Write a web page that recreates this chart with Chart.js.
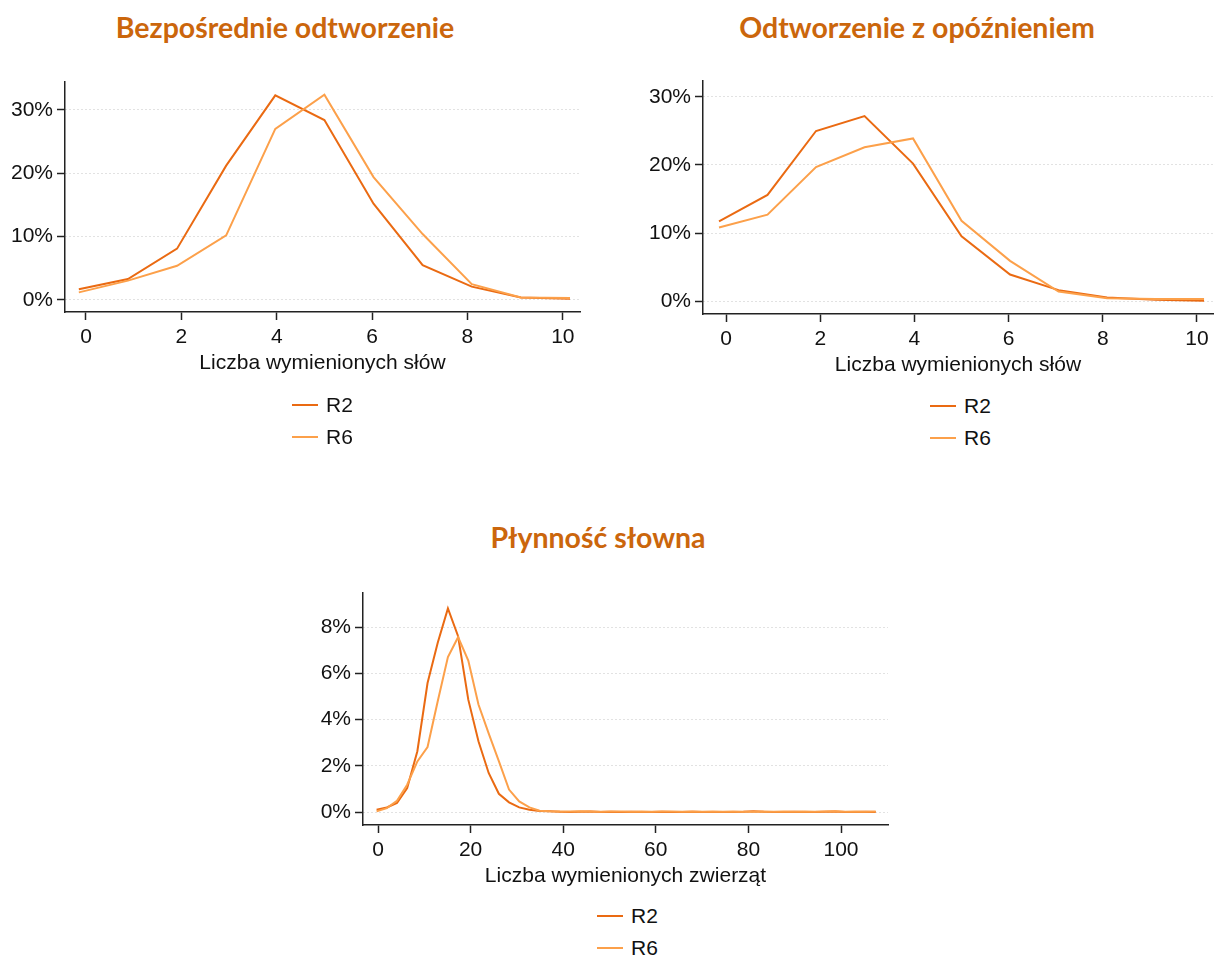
<!DOCTYPE html>
<html lang="pl">
<head>
<meta charset="utf-8">
<title>Odtwarzanie słów i płynność słowna – R2 i R6</title>
<script src="https://cdn.jsdelivr.net/npm/chart.js@4.4.1/dist/chart.umd.min.js"></script>
<style>
  html, body { margin: 0; padding: 0; background: #fff; }
  body { width: 1214px; height: 955px; position: relative; overflow: hidden; }
  canvas { position: absolute; }
  .title {
    position: absolute; transform: translateX(-50%); white-space: nowrap;
    font-family: Lato, "Open Sans", sans-serif; font-weight: 700; font-size: 28.5px;
    color: #CB660C; line-height: 1;
  }
  .legend { position: absolute; font-family: "Liberation Sans", Arial, sans-serif; font-size: 21px; color: #111; }
  .legend .row { display: flex; align-items: center; height: 32px; }
  .legend .sw { display: inline-block; width: 26px; height: 2px; margin-right: 8px; }
</style>
</head>
<body>

<div class="title" style="left:285px; top:13px;">Bezpośrednie odtworzenie</div>
<div class="title" style="left:917px; top:13px;">Odtworzenie z opóźnieniem</div>
<div class="title" style="left:598px; top:523px;">Płynność słowna</div>

<canvas id="c1" width="600" height="330" style="left:0px; top:60px;"></canvas>
<canvas id="c2" width="574" height="330" style="left:640px; top:60px;"></canvas>
<canvas id="c3" width="600" height="330" style="left:300px; top:570px;"></canvas>

<div class="legend" id="l1" style="left:292px; top:389px;"></div>
<div class="legend" id="l2" style="left:930px; top:390px;"></div>
<div class="legend" id="l3" style="left:597px; top:900px;"></div>

<script>
// Series names and colours
const seriesNames = ['R2', 'R6'];
const seriesColors = ['#EA6A12', '#FCA04A'];

// Word recall charts: bin positions along "number of words"
const wordsX = [-0.15, 0.88, 1.91, 2.94, 3.97, 5.0, 6.03, 7.06, 8.09, 9.12, 10.15];
const wordsTicks = [0, 2, 4, 6, 8, 10];
const pctTicksWords = [0, 10, 20, 30];

// Bezpośrednie odtworzenie (immediate recall), % of respondents
const immediateR2 = [1.7, 3.3, 8.1, 21.2, 32.3, 28.4, 15.2, 5.5, 2.1, 0.4, 0.2];
const immediateR6 = [1.2, 3.05, 5.4, 10.2, 27.0, 32.4, 19.4, 10.4, 2.5, 0.4, 0.3];

// Odtworzenie z opóźnieniem (delayed recall), % of respondents
const delayedR2 = [11.7, 15.6, 25.0, 27.2, 20.2, 9.5, 3.9, 1.6, 0.5, 0.2, 0.05];
const delayedR6 = [10.8, 12.7, 19.7, 22.6, 23.9, 11.8, 5.9, 1.4, 0.4, 0.3, 0.3];

// Płynność słowna (verbal fluency): bin positions along "number of animals"
const animalsX = [-0.3, 1.9, 4.1, 6.3, 8.5, 10.7, 12.9, 15.1, 17.3, 19.5,
  21.7, 23.9, 26.1, 28.3, 30.5, 32.7, 34.9, 37.1, 39.3, 41.5,
  43.7, 45.9, 48.1, 50.3, 52.5, 54.7, 56.9, 59.1, 61.3, 63.5,
  65.7, 67.9, 70.1, 72.3, 74.5, 76.7, 78.9, 81.1, 83.3, 85.5,
  87.7, 89.9, 92.1, 94.3, 96.5, 98.7, 100.9, 103.1, 105.3, 107.5];
const animalsTicks = [0, 20, 40, 60, 80, 100];
const pctTicksAnimals = [0, 2, 4, 6, 8];
const fluencyR2 = [0.10, 0.20, 0.39, 1.04, 2.63, 5.58, 7.32, 8.80, 7.60, 4.86,
  3.06, 1.69, 0.79, 0.42, 0.20, 0.10, 0.05, 0.03, 0.01, 0.00,
  0.01, 0.02, 0.00, 0.01, 0.00, 0.01, 0.00, 0.00, 0.01, 0.00,
  0.00, 0.01, 0.00, 0.00, 0.00, 0.00, 0.01, 0.03, 0.01, 0.00,
  0.00, 0.01, 0.00, 0.00, 0.01, 0.02, 0.00, 0.00, 0.01, 0.00];
const fluencyR6 = [0.03, 0.17, 0.49, 1.18, 2.19, 2.81, 4.79, 6.70, 7.56, 6.55,
  4.65, 3.40, 2.20, 0.97, 0.46, 0.20, 0.06, 0.03, 0.02, 0.02,
  0.03, 0.02, 0.01, 0.02, 0.02, 0.01, 0.02, 0.01, 0.02, 0.02,
  0.01, 0.02, 0.01, 0.02, 0.01, 0.02, 0.01, 0.01, 0.02, 0.01,
  0.02, 0.01, 0.02, 0.01, 0.02, 0.03, 0.01, 0.02, 0.01, 0.02];

const axisFont = { family: '"Liberation Sans", Arial, sans-serif', size: 21 };
const ink = '#111';
const axisColor = '#222';

function buildChart(id, cfg) {
  const series = [cfg.r2, cfg.r6];
  const datasets = series.map((vals, s) => ({
    label: seriesNames[s],
    data: cfg.x.map((x, i) => ({ x: x, y: vals[i] })),
    borderColor: seriesColors[s],
    backgroundColor: seriesColors[s],
    borderWidth: 2,
    pointRadius: 0,
    tension: 0,
    fill: false,
    order: s === 0 ? 1 : 0
  }));
  return new Chart(document.getElementById(id), {
    type: 'line',
    data: { datasets: datasets },
    options: {
      responsive: false,
      animation: false,
      devicePixelRatio: 1,
      layout: { padding: cfg.padding },
      plugins: { legend: { display: false }, tooltip: { enabled: false } },
      scales: {
        x: {
          type: 'linear',
          min: cfg.xMin, max: cfg.xMax,
          afterBuildTicks: sc => { sc.ticks = cfg.xTicks.map(v => ({ value: v })); },
          afterFit: sc => { sc.height = 64; },
          grid: { display: true, drawOnChartArea: false, drawTicks: true, tickLength: 8,
                  tickColor: axisColor, tickWidth: 1.5 },
          border: { display: true, color: axisColor, width: 1.5 },
          ticks: { color: ink, font: axisFont, padding: 5, maxRotation: 0, autoSkip: false,
                   callback: v => String(v) },
          title: { display: true, text: cfg.xTitle, color: ink, font: axisFont,
                   padding: { top: 0, bottom: 0 } }
        },
        y: {
          type: 'linear',
          min: cfg.yMin, max: cfg.yMax,
          afterBuildTicks: sc => { sc.ticks = cfg.yTicks.map(v => ({ value: v })); },
          afterFit: sc => { sc.width = cfg.yWidth; },
          grid: { display: true, drawOnChartArea: true, color: '#c4c4c4', lineWidth: 1,
                  drawTicks: true, tickLength: 8, tickColor: axisColor, tickWidth: 1.5,
                  tickBorderDash: [] },
          border: { display: true, color: axisColor, width: 1.5, dash: [1, 3] },
          ticks: { color: ink, font: axisFont, padding: 4, autoSkip: false,
                   callback: v => v + '%' }
        }
      }
    }
  });
}

function buildLegend(id) {
  const box = document.getElementById(id);
  seriesNames.forEach((name, s) => {
    const row = document.createElement('div');
    row.className = 'row';
    const sw = document.createElement('span');
    sw.className = 'sw';
    sw.style.background = seriesColors[s];
    const tx = document.createElement('span');
    tx.textContent = name;
    row.appendChild(sw);
    row.appendChild(tx);
    box.appendChild(row);
  });
}

buildChart('c1', {
  x: wordsX, r2: immediateR2, r6: immediateR6,
  xMin: -0.44, xMax: 10.36, xTicks: wordsTicks,
  yMin: -1.9, yMax: 34.4, yTicks: pctTicksWords,
  xTitle: 'Liczba wymienionych słów',
  yWidth: 65, padding: { left: 0, top: 22, right: 20, bottom: 14 }
});
buildChart('c2', {
  x: wordsX, r2: delayedR2, r6: delayedR6,
  xMin: -0.49, xMax: 10.34, xTicks: wordsTicks,
  yMin: -1.91, yMax: 32.35, yTicks: pctTicksWords,
  xTitle: 'Liczba wymienionych słów',
  yWidth: 63, padding: { left: 0, top: 21, right: 1, bottom: 12 }
});
buildChart('c3', {
  x: animalsX, r2: fluencyR2, r6: fluencyR6,
  xMin: -3.24, xMax: 110.15, xTicks: animalsTicks,
  yMin: -0.56, yMax: 9.47, yTicks: pctTicksAnimals,
  xTitle: 'Liczba wymienionych zwierząt',
  yWidth: 63, padding: { left: 0, top: 23, right: 12, bottom: 11 }
});

buildLegend('l1');
buildLegend('l2');
buildLegend('l3');
</script>
</body>
</html>
